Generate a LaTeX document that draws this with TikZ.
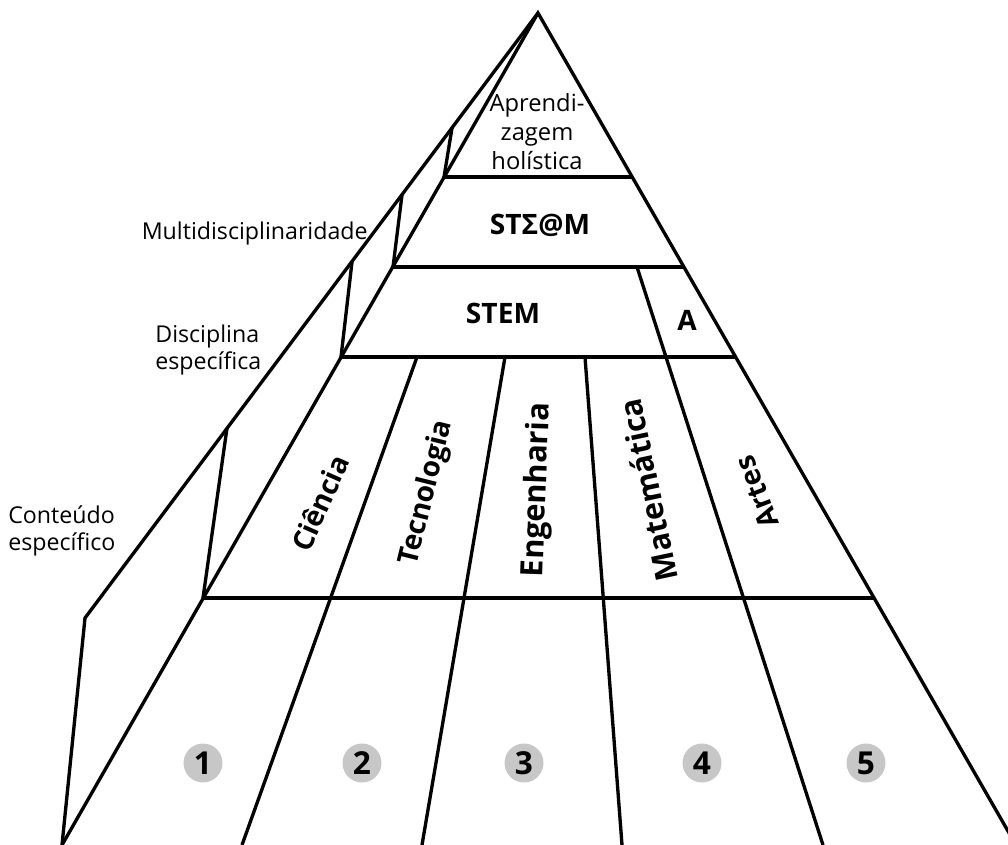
\documentclass[tikz,border=0pt]{standalone}
\usepackage{fontspec}
\setmainfont{Open Sans}
\usepackage{tikz}

\begin{document}
\begin{tikzpicture}[x=0.02cm,y=-0.02cm,
    edge/.style={line width=1.9pt, line join=miter},
    lbl/.style={inner sep=0pt, font=\fontsize{13.2}{15}\selectfont},
    blbl/.style={inner sep=0pt, font=\fontsize{16}{18}\selectfont\bfseries},
    numcirc/.style={circle, fill=black!22, minimum size=0.78cm, inner sep=0pt,
                    font=\fontsize{18}{18}\selectfont\bfseries}]
				%%%%% FRAME %%%%%
				\useasboundingbox (0,0) rectangle (1008,845);

				\coordinate (apex) at (538,13);
				\coordinate (fl) at (62,845);
				\coordinate (fr) at (1016,845);
				\coordinate (bk) at (85,618);

				% front of the pyramid
				\draw[edge] (fl) -- (apex) -- (fr);

				% side plane
				\draw[edge] (apex) -- (bk) -- (fl);
				\draw[edge] (452,128) -- (444,177);
				\draw[edge] (402,195) -- (393,267);
				\draw[edge] (352,262) -- (341,357);
				\draw[edge] (227,428) -- (203,598);

				% levels
				\draw[edge] (444,177) -- (632,177);
				\draw[edge] (393,267) -- (684,267);
				\draw[edge] (341,357) -- (736,357);
				\draw[edge] (203,598) -- (874,598);

				% columns
				\draw[edge] (417,357) -- (242,845);
				\draw[edge] (505,357) -- (422,845);
				\draw[edge] (585,357) -- (622,845);
				\draw[edge] (637,267) -- (823,845);

				%%%%% TEXT %%%%%
				\node[lbl, align=center, font=\fontsize{13.5}{16.5}\selectfont] (hol) at (537,132) {Aprendi-\\zagem\\holística};
				\node[blbl] (steam) at (540,225) {STΣ@M};
				\node[blbl] (stem) at (503,313) {STEM};
				\node[blbl] (arta) at (687,320) {A};

				\node[lbl, anchor=east] (multi) at (368,233) {Multidisciplinaridade};
				\node[lbl, anchor=west, align=left] (disc) at (155,350) {Disciplina\\específica};
				\node[lbl, anchor=west, align=left] (cont) at (8,531) {Conteúdo\\específico};

				\node[blbl, rotate=66] (cie) at (320,503) {Ciência};
				\node[blbl, rotate=76] (tec) at (427,493) {Tecnologia};
				\node[blbl, rotate=88, font=\fontsize{17.5}{18}\selectfont\bfseries] (eng) at (538,490) {Engenharia};
				\node[blbl, rotate=102, font=\fontsize{17.5}{18}\selectfont\bfseries] (mat) at (648,490) {Matemática};
				\node[blbl, rotate=111] (art) at (757,492) {Artes};

				% numbers
				\node[numcirc] (n1) at (203,763) {1};
				\node[numcirc] (n2) at (362,763) {2};
				\node[numcirc] (n3) at (524,763) {3};
				\node[numcirc] (n4) at (702,763) {4};
				\node[numcirc] (n5) at (866,763) {5};
\end{tikzpicture}
\end{document}
